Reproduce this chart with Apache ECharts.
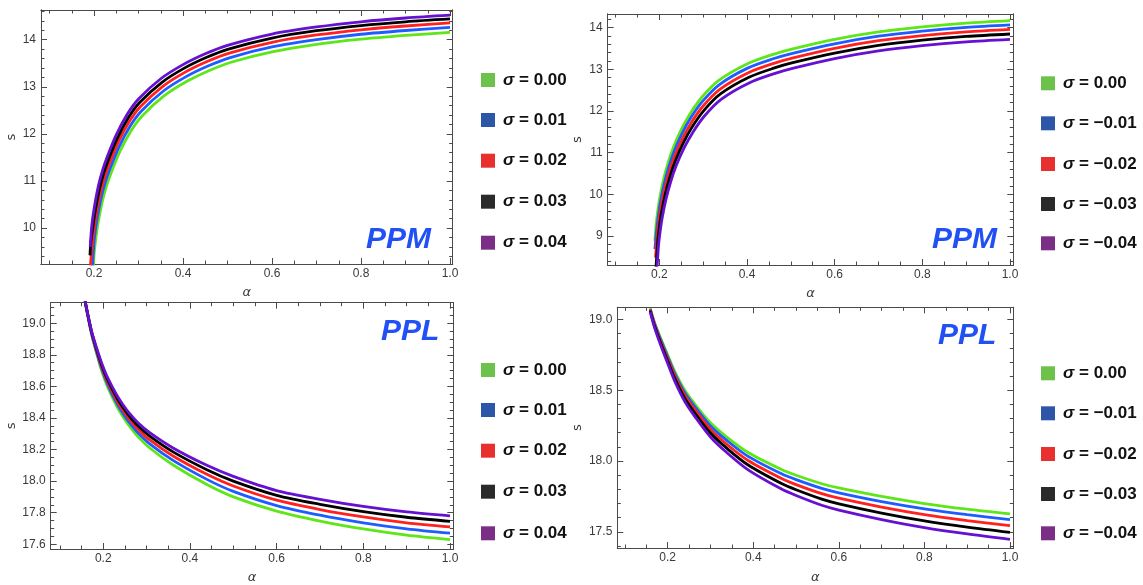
<!DOCTYPE html>
<html><head><meta charset="utf-8">
<script src="https://cdn.jsdelivr.net/npm/echarts@6/dist/echarts.min.js"></script>
<style>html,body{margin:0;padding:0;background:#fff}#c{width:1143px;height:585px}</style>
</head><body><div id="c"></div>
<script>
// ---------- data (alpha, s) ----------
const namesPos = ['σ = 0.00','σ = 0.01','σ = 0.02','σ = 0.03','σ = 0.04'];
const namesNeg = ['σ = 0.00','σ = −0.01','σ = −0.02','σ = −0.03','σ = −0.04'];
const tagTop = 'PPM', tagBottom = 'PPL';

const xTicks = [0.2, 0.4, 0.6, 0.8, 1.0];
const p1YTicks = [10, 11, 12, 13, 14];
const p2YTicks = [9, 10, 11, 12, 13, 14];
const p3YTicks = [17.6, 17.8, 18.0, 18.2, 18.4, 18.6, 18.8, 19.0];
const p4YTicks = [17.5, 18.0, 18.5, 19.0];

// Panel 1 (PPM, sigma >= 0)
const p1_s00 = [[0.1985,9.2],[0.2005,9.47],[0.203,9.69],[0.208,10.04],[0.218,10.54],[0.228,10.89],[0.238,11.16],[0.258,11.62],[0.283,12.06],[0.308,12.38],[0.358,12.81],[0.408,13.11],[0.458,13.34],[0.508,13.52],[0.6,13.74],[0.7,13.9],[0.8,14.01],[0.9,14.09],[1.0,14.157]];
const p1_s01 = [[0.1965,9.2],[0.1975,9.34],[0.201,9.79],[0.206,10.14],[0.216,10.64],[0.226,10.99],[0.236,11.26],[0.256,11.72],[0.281,12.16],[0.306,12.48],[0.356,12.91],[0.406,13.21],[0.456,13.44],[0.506,13.62],[0.6,13.845],[0.7,14.0],[0.8,14.115],[0.9,14.195],[1.0,14.26]];
const p1_s02 = [[0.192,9.2],[0.1955,9.6],[0.199,9.885],[0.204,10.235],[0.214,10.735],[0.224,11.085],[0.234,11.355],[0.254,11.815],[0.279,12.255],[0.304,12.575],[0.354,13.005],[0.404,13.305],[0.454,13.535],[0.504,13.715],[0.6,13.945],[0.7,14.1],[0.8,14.21],[0.9,14.29],[1.0,14.355]];
const p1_s03 = [[0.191,9.42],[0.1925,9.66],[0.197,9.99],[0.202,10.32],[0.212,10.82],[0.222,11.17],[0.232,11.44],[0.252,11.9],[0.277,12.34],[0.302,12.66],[0.352,13.09],[0.402,13.39],[0.452,13.62],[0.502,13.8],[0.6,14.035],[0.7,14.19],[0.8,14.3],[0.9,14.38],[1.0,14.44]];
const p1_s04 = [[0.1915,9.6],[0.195,10.05],[0.2,10.4],[0.21,10.9],[0.22,11.25],[0.23,11.52],[0.25,11.98],[0.275,12.42],[0.3,12.74],[0.35,13.17],[0.4,13.47],[0.45,13.7],[0.5,13.88],[0.6,14.12],[0.7,14.27],[0.8,14.38],[0.9,14.46],[1.0,14.52]];

// Panel 2 (PPM, sigma <= 0)
const p2_s00 = [[0.19,8.88],[0.1925,9.25],[0.1955,9.52],[0.2,9.85],[0.209,10.32],[0.22,10.75],[0.232,11.12],[0.25,11.55],[0.27,11.93],[0.297,12.33],[0.335,12.73],[0.4,13.13],[0.46,13.36],[0.5,13.48],[0.6,13.72],[0.7,13.9],[0.8,14.02],[0.9,14.11],[1.0,14.17]];
const p2_s01 = [[0.19,8.68],[0.194,9.15],[0.197,9.42],[0.2015,9.75],[0.2105,10.22],[0.2215,10.65],[0.2335,11.02],[0.2515,11.45],[0.2715,11.83],[0.2985,12.23],[0.3365,12.63],[0.4015,13.03],[0.4615,13.26],[0.5015,13.38],[0.6,13.615],[0.7,13.797],[0.8,13.92],[0.9,14.01],[1.0,14.07]];
const p2_s02 = [[0.1915,8.48],[0.1955,9.04],[0.1985,9.31],[0.203,9.64],[0.212,10.11],[0.223,10.54],[0.235,10.91],[0.253,11.34],[0.273,11.72],[0.3,12.12],[0.338,12.52],[0.403,12.92],[0.463,13.15],[0.503,13.27],[0.6,13.505],[0.7,13.688],[0.8,13.81],[0.9,13.9],[1.0,13.96]];
const p2_s03 = [[0.1925,8.25],[0.1945,8.56],[0.197,8.93],[0.2,9.2],[0.2045,9.53],[0.2135,10.0],[0.2245,10.43],[0.2365,10.8],[0.2545,11.23],[0.2745,11.61],[0.3015,12.01],[0.3395,12.41],[0.4045,12.81],[0.4645,13.04],[0.5045,13.16],[0.6,13.39],[0.7,13.575],[0.8,13.7],[0.9,13.79],[1.0,13.85]];
const p2_s04 = [[0.1945,8.2],[0.196,8.43],[0.1985,8.8],[0.2015,9.07],[0.206,9.4],[0.215,9.87],[0.226,10.3],[0.238,10.67],[0.256,11.1],[0.276,11.48],[0.303,11.88],[0.341,12.28],[0.406,12.68],[0.466,12.91],[0.506,13.03],[0.6,13.26],[0.7,13.445],[0.8,13.57],[0.9,13.66],[1.0,13.72]];

// Panel 3 (PPL, sigma >= 0)
const p3_alpha = [0.158,0.173,0.185,0.196,0.21,0.231,0.245,0.26,0.28,0.308,0.361,0.439,0.5,0.6,0.7,0.8,0.9,1.0];
const p3_s00 = [19.14,18.93,18.805,18.70,18.597,18.475,18.41,18.35,18.282,18.208,18.102,17.978,17.9,17.81,17.747,17.697,17.658,17.63];
const p3_s01 = [19.14,18.935,18.814,18.714,18.613,18.494,18.43,18.372,18.306,18.234,18.131,18.011,17.935,17.845,17.784,17.736,17.698,17.67];
const p3_s02 = [19.14,18.941,18.824,18.727,18.628,18.512,18.45,18.392,18.329,18.259,18.159,18.043,17.969,17.879,17.82,17.773,17.736,17.71];
const p3_s03 = [19.14,18.945,18.832,18.739,18.642,18.529,18.468,18.412,18.35,18.283,18.185,18.072,18.0,17.91,17.853,17.807,17.771,17.745];
const p3_s04 = [19.14,18.95,18.84,18.75,18.655,18.545,18.485,18.43,18.37,18.305,18.21,18.1,18.03,17.94,17.885,17.84,17.805,17.78];

// Panel 4 (PPL, sigma <= 0)
const p4_alpha = [0.159,0.168,0.178,0.1874,0.2,0.217,0.24,0.264,0.3,0.338,0.388,0.466,0.5,0.56,0.6,0.7,0.8,0.9,1.0];
const p4_s00 = [19.08,18.99,18.91,18.84,18.75,18.63,18.5,18.4,18.27,18.17,18.06,17.94,17.9,17.84,17.81,17.75,17.7,17.66,17.627];
const p4_s01 = [19.074,18.982,18.9,18.829,18.737,18.615,18.482,18.381,18.248,18.146,18.033,17.91,17.869,17.807,17.776,17.714,17.663,17.622,17.587];
const p4_s02 = [19.069,18.974,18.889,18.816,18.722,18.598,18.463,18.36,18.224,18.119,18.004,17.877,17.834,17.77,17.738,17.675,17.622,17.58,17.544];
const p4_s03 = [19.062,18.965,18.878,18.803,18.707,18.58,18.442,18.337,18.198,18.091,17.972,17.841,17.797,17.731,17.698,17.633,17.578,17.534,17.497];
const p4_s04 = [19.055,18.955,18.865,18.788,18.69,18.56,18.42,18.312,18.17,18.06,17.938,17.802,17.757,17.688,17.654,17.587,17.53,17.485,17.447];

// ---------- styling / layout ----------
const lineColors = ['#5ee619','#1f5cff','#ff2020','#000000','#6610d0'];
const swatchColors = ['#6cc24a','#2d56a8','#e8312f','#2a2a2a','#7a2e86'];
const frameColor = '#4a4a4a', labelColor = '#3a3a3a';
const zip = (a, s) => a.map((v, i) => [v, s[i]]);

const panels = [
  {grid:{left:41,top:10,width:411.7,height:254}, x:[0.0809,1.006], y:[9.236,14.63], yT:p1YTicks, yStep:0.2, yFmt:v=>String(v),
   names:namesPos, data:[p1_s00,p1_s01,p1_s02,p1_s03,p1_s04], tag:tagTop, tagPos:[366,225], lgLeft:481, lgC:[80,120,160.7,201.7,242.7], sGap:23, aGap:22},
  {grid:{left:607.7,top:14,width:405.6,height:251}, x:[0.0823,1.0075], y:[8.30,14.33], yT:p2YTicks, yStep:0.2, yFmt:v=>String(v),
   names:namesNeg, data:[p2_s00,p2_s01,p2_s02,p2_s03,p2_s04], tag:tagTop, tagPos:[932,225], lgLeft:1041, lgC:[83.3,123.3,164,204,243.3], sGap:24, aGap:22},
  {grid:{left:50.7,top:302.7,width:402.6,height:249}, x:[0.0787,1.0076], y:[17.57,19.13], yT:p3YTicks, yStep:0.05, yFmt:v=>v.toFixed(1),
   names:namesPos, data:[zip(p3_alpha,p3_s00),zip(p3_alpha,p3_s01),zip(p3_alpha,p3_s02),zip(p3_alpha,p3_s03),zip(p3_alpha,p3_s04)], tag:tagBottom, tagPos:[381,317], lgLeft:481, lgC:[370,410,450.7,491.7,533.3], sGap:33, aGap:22},
  {grid:{left:617.3,top:307.3,width:396,height:244.4}, x:[0.0822,1.0077], y:[17.386,19.086], yT:p4YTicks, yStep:0.1, yFmt:v=>v.toFixed(1),
   names:namesNeg, data:[zip(p4_alpha,p4_s00),zip(p4_alpha,p4_s01),zip(p4_alpha,p4_s02),zip(p4_alpha,p4_s03),zip(p4_alpha,p4_s04)], tag:tagBottom, tagPos:[938,321], lgLeft:1041, lgC:[373.3,413.3,454,494,533.3], sGap:33, aGap:23}
];

function minors(lo, hi, step, majors) {
  const out = [];
  const n0 = Math.ceil(lo / step - 1e-9), n1 = Math.floor(hi / step + 1e-9);
  for (let n = n0; n <= n1; n++) {
    const v = +(n * step).toFixed(4);
    if (!majors.some(m => Math.abs(m - v) < 1e-6)) out.push(v);
  }
  return out;
}

const grids = [], xAxes = [], yAxes = [], series = [], legends = [], titles = [];
const nameStyle = {color: labelColor, fontSize: 13, fontFamily: 'DejaVu Sans'};
const tickLabel = {color: labelColor, fontSize: 12, fontFamily: 'Liberation Sans'};

panels.forEach((p, g) => {
  grids.push(Object.assign({containLabel:false}, p.grid));
  const xMin = minors(p.x[0], p.x[1], 0.05, xTicks);
  const yMin = minors(p.y[0], p.y[1], p.yStep, p.yT);
  const mkX = (pos, vals, len, lab) => ({
    type:'value', gridIndex:g, position:pos, min:p.x[0], max:p.x[1],
    axisLine:{show:true, onZero:false, lineStyle:{color:frameColor, width:1}},
    axisTick:{show:true, inside:true, length:len, customValues:vals, lineStyle:{color:frameColor, width:1}},
    axisLabel:Object.assign({show:lab, customValues:vals, margin:4, formatter:v=>v.toFixed(1)}, tickLabel),
    splitLine:{show:false},
    name: lab ? 'α' : '', nameLocation:'middle', nameGap:p.aGap,
    nameTextStyle:Object.assign({fontStyle:'italic'}, nameStyle)
  });
  const mkY = (pos, vals, len, lab) => ({
    type:'value', gridIndex:g, position:pos, min:p.y[0], max:p.y[1],
    axisLine:{show:true, onZero:false, lineStyle:{color:frameColor, width:1}},
    axisTick:{show:true, inside:true, length:len, customValues:vals, lineStyle:{color:frameColor, width:1}},
    axisLabel:Object.assign({show:lab, customValues:vals, margin:5, formatter:p.yFmt}, tickLabel),
    splitLine:{show:false},
    name: lab ? 's' : '', nameLocation:'middle', nameGap:p.sGap, nameRotate:90,
    nameTextStyle:nameStyle
  });
  xAxes.push(mkX('bottom', xTicks, 6, true), mkX('bottom', xMin, 3.5, false), mkX('top', xTicks, 6, false), mkX('top', xMin, 3.5, false));
  yAxes.push(mkY('left', p.yT, 6, true), mkY('left', yMin, 3.5, false), mkY('right', p.yT, 6, false), mkY('right', yMin, 3.5, false));

  p.data.forEach((d, k) => {
    series.push({
      type:'line', name:p.names[k], xAxisIndex:4*g, yAxisIndex:4*g, data:d,
      smooth:0.3, symbol:'none', showSymbol:false, clip:true,
      lineStyle:{width:2.8, color:lineColors[k]}, itemStyle:{color:lineColors[k]},
      emphasis:{disabled:true}, z:2+k
    });
    legends.push({
      left:p.lgLeft, top:p.lgC[k] - 9, orient:'vertical', padding:0,
      itemWidth:14, itemHeight:14, icon:'rect', selectedMode:false,
      data:[{name:p.names[k], icon:'rect', itemStyle:{color:swatchColors[k], borderWidth:0}}],
      formatter:n => n.replace('σ', '{i|σ}'),
      textStyle:{fontFamily:'Liberation Sans', fontSize:17, fontWeight:'bold', color:'#111', lineHeight:18, padding:[0,0,0,3],
        rich:{i:{fontFamily:'Liberation Sans', fontSize:17, fontWeight:'bold', fontStyle:'italic', color:'#111', lineHeight:18}}}
    });
  });
  titles.push({text:p.tag, left:p.tagPos[0], top:p.tagPos[1], padding:0,
    textStyle:{fontFamily:'Liberation Sans', fontSize:30, fontWeight:'bold', fontStyle:'italic', color:'#2150f5'}});
});

const chart = echarts.init(document.getElementById('c'), null, {renderer:'canvas'});
chart.setOption({
  animation:false, backgroundColor:'#ffffff',
  title:titles, grid:grids, xAxis:xAxes, yAxis:yAxes, legend:legends, series:series
});
</script>
</body></html>
